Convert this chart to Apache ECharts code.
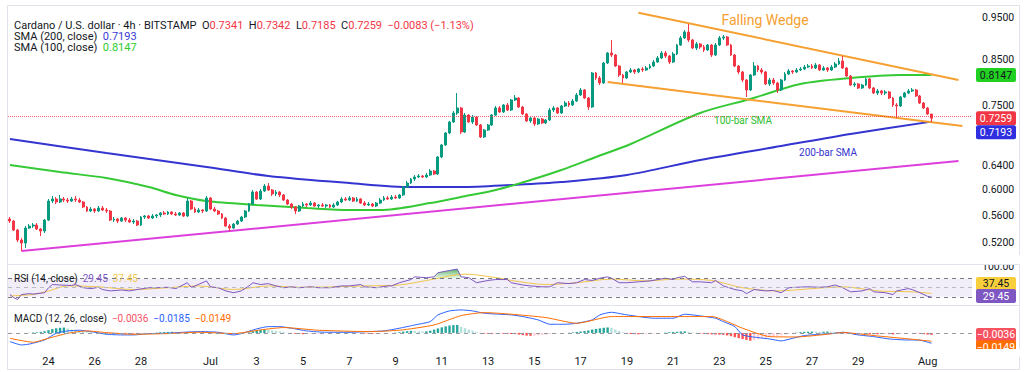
<!DOCTYPE html>
<html><head><meta charset="utf-8">
<script src="https://cdn.jsdelivr.net/npm/echarts@6/dist/echarts.min.js"></script>
<style>html,body{margin:0;padding:0;background:#fff}#c{width:1024px;height:372px}</style>
</head><body><div id="c"></div>
<script>
// ---------- data ----------
const START_UTC = Date.UTC(2025, 5, 22, 8);   // first 4h bar
const BAR_HOURS = 4;
const N_CATS = 250;                              // bars + right-side empty space
const TICK_DATES  = ['06-24','06-26','06-28','07-01','07-03','07-05','07-07','07-09','07-11','07-13','07-15','07-17','07-19','07-21','07-23','07-25','07-27','07-29','08-01'];
const TICK_LABELS = ['24','26','28','Jul','3','5','7','9','11','13','15','17','19','21','23','25','27','29','Aug'];
const PRICE_TICKS = [0.52, 0.56, 0.60, 0.64, 0.75, 0.85, 0.95];
const PRICE_MIN = 0.4929, PRICE_MAX = 0.9825;

// [open, close, low, high]
const candles = [
// 0-9
[0.5544,0.5514,0.5485,0.5574],[0.5514,0.5383,0.5369,0.5529],[0.5383,0.5241,0.5213,0.5398],[0.5241,0.5199,0.5089,0.5269],[0.5199,0.5412,0.5130,0.5441],
[0.5412,0.5441,0.5398,0.5470],[0.5441,0.5456,0.5412,0.5485],[0.5456,0.5398,0.5383,0.5485],[0.5398,0.5369,0.5297,0.5412],[0.5369,0.5529,0.5340,0.5544],
// 10-19
[0.5529,0.5817,0.5514,0.5849],[0.5817,0.5849,0.5786,0.5896],[0.5849,0.5802,0.5771,0.5880],[0.5802,0.5849,0.5786,0.5912],[0.5849,0.5833,0.5802,0.5880],
[0.5833,0.5817,0.5786,0.5865],[0.5817,0.5849,0.5802,0.5880],[0.5849,0.5833,0.5802,0.5896],[0.5833,0.5802,0.5786,0.5865],[0.5802,0.5725,0.5710,0.5817],
// 20-29
[0.5725,0.5664,0.5649,0.5740],[0.5664,0.5694,0.5649,0.5725],[0.5694,0.5664,0.5634,0.5710],[0.5664,0.5710,0.5649,0.5740],[0.5710,0.5679,0.5664,0.5740],
[0.5679,0.5664,0.5634,0.5710],[0.5664,0.5529,0.5514,0.5679],[0.5529,0.5544,0.5500,0.5574],[0.5544,0.5514,0.5485,0.5559],[0.5514,0.5559,0.5500,0.5574],
// 30-39
[0.5559,0.5529,0.5500,0.5574],[0.5529,0.5500,0.5485,0.5559],[0.5500,0.5514,0.5470,0.5544],[0.5514,0.5456,0.5441,0.5529],[0.5456,0.5574,0.5441,0.5589],
[0.5574,0.5589,0.5544,0.5604],[0.5589,0.5559,0.5544,0.5604],[0.5559,0.5589,0.5544,0.5619],[0.5589,0.5604,0.5559,0.5619],[0.5604,0.5634,0.5574,0.5649],
// 40-49
[0.5634,0.5619,0.5604,0.5664],[0.5619,0.5649,0.5604,0.5664],[0.5649,0.5619,0.5604,0.5664],[0.5619,0.5604,0.5589,0.5649],[0.5604,0.5634,0.5589,0.5649],
[0.5634,0.5589,0.5574,0.5649],[0.5589,0.5817,0.5574,0.5865],[0.5817,0.5694,0.5679,0.5833],[0.5694,0.5649,0.5634,0.5725],[0.5649,0.5679,0.5634,0.5710],
// 50-59
[0.5679,0.5664,0.5634,0.5694],[0.5664,0.5865,0.5649,0.5896],[0.5865,0.5694,0.5679,0.5880],[0.5694,0.5664,0.5649,0.5725],[0.5664,0.5619,0.5604,0.5679],
[0.5619,0.5559,0.5544,0.5634],[0.5559,0.5441,0.5427,0.5574],[0.5441,0.5412,0.5369,0.5470],[0.5412,0.5470,0.5398,0.5485],[0.5470,0.5514,0.5456,0.5529],
// 60-69
[0.5514,0.5574,0.5500,0.5589],[0.5574,0.5664,0.5559,0.5679],[0.5664,0.5771,0.5649,0.5786],[0.5771,0.5959,0.5756,0.5991],[0.5959,0.5849,0.5833,0.5975],
[0.5849,0.5975,0.5833,0.6007],[0.5975,0.6055,0.5959,0.6088],[0.6055,0.5991,0.5975,0.6104],[0.5991,0.5928,0.5896,0.6007],[0.5928,0.5959,0.5896,0.5991],
// 70-79
[0.5959,0.5912,0.5880,0.5975],[0.5912,0.5833,0.5817,0.5928],[0.5833,0.5771,0.5756,0.5849],[0.5771,0.5725,0.5694,0.5786],[0.5725,0.5664,0.5619,0.5740],
[0.5664,0.5740,0.5649,0.5756],[0.5740,0.5771,0.5725,0.5802],[0.5771,0.5756,0.5725,0.5786],[0.5756,0.5786,0.5740,0.5817],[0.5786,0.5740,0.5725,0.5802],
// 80-89
[0.5740,0.5756,0.5710,0.5771],[0.5756,0.5740,0.5725,0.5786],[0.5740,0.5756,0.5710,0.5771],[0.5756,0.5725,0.5710,0.5771],[0.5725,0.5756,0.5710,0.5786],
[0.5756,0.5802,0.5740,0.5817],[0.5802,0.5849,0.5786,0.5880],[0.5849,0.5833,0.5817,0.5880],[0.5833,0.5865,0.5817,0.5896],[0.5865,0.5817,0.5802,0.5880],
// 90-99
[0.5817,0.5849,0.5802,0.5880],[0.5849,0.5786,0.5771,0.5865],[0.5786,0.5756,0.5740,0.5817],[0.5756,0.5771,0.5740,0.5802],[0.5771,0.5740,0.5725,0.5786],
[0.5740,0.5786,0.5725,0.5802],[0.5786,0.5833,0.5771,0.5865],[0.5833,0.5865,0.5817,0.5896],[0.5865,0.5849,0.5833,0.5896],[0.5849,0.5880,0.5833,0.5912],
// 100-109
[0.5880,0.5865,0.5849,0.5912],[0.5865,0.5912,0.5849,0.5928],[0.5912,0.6039,0.5896,0.6055],[0.6039,0.6104,0.6023,0.6137],[0.6104,0.6170,0.6088,0.6186],
[0.6170,0.6203,0.6137,0.6236],[0.6203,0.6220,0.6186,0.6253],[0.6220,0.6203,0.6186,0.6236],[0.6203,0.6236,0.6186,0.6270],[0.6236,0.6303,0.6220,0.6338],
// 110-119
[0.6303,0.6253,0.6236,0.6320],[0.6253,0.6544,0.6236,0.6561],[0.6544,0.6758,0.6526,0.6776],[0.6758,0.6978,0.6739,0.6997],[0.6978,0.7186,0.6959,0.7206],
[0.7186,0.7361,0.7167,0.7400],[0.7361,0.7460,0.7321,0.7765],[0.7460,0.6997,0.6959,0.7480],[0.6997,0.7321,0.6978,0.7361],[0.7321,0.7186,0.7167,0.7341],
// 120-129
[0.7186,0.7282,0.7148,0.7321],[0.7282,0.7129,0.7110,0.7302],[0.7129,0.6904,0.6885,0.7148],[0.6904,0.7034,0.6885,0.7053],[0.7034,0.7129,0.7015,0.7148],
[0.7129,0.7321,0.7110,0.7341],[0.7321,0.7460,0.7302,0.7500],[0.7460,0.7380,0.7361,0.7500],[0.7380,0.7520,0.7361,0.7540],[0.7520,0.7420,0.7400,0.7560],
// 130-139
[0.7420,0.7621,0.7400,0.7642],[0.7621,0.7662,0.7601,0.7724],[0.7662,0.7480,0.7460,0.7683],[0.7480,0.7341,0.7321,0.7500],[0.7341,0.7206,0.7186,0.7361],
[0.7206,0.7263,0.7167,0.7282],[0.7263,0.7148,0.7110,0.7282],[0.7148,0.7244,0.7129,0.7263],[0.7244,0.7167,0.7148,0.7263],[0.7167,0.7225,0.7148,0.7244],
// 140-149
[0.7225,0.7420,0.7206,0.7460],[0.7420,0.7460,0.7380,0.7500],[0.7460,0.7361,0.7341,0.7480],[0.7361,0.7500,0.7341,0.7520],[0.7500,0.7560,0.7480,0.7601],
[0.7560,0.7520,0.7480,0.7601],[0.7520,0.7601,0.7500,0.7642],[0.7601,0.7724,0.7581,0.7765],[0.7724,0.7828,0.7704,0.7870],[0.7828,0.7662,0.7642,0.7849],
// 150-159
[0.7662,0.7480,0.7420,0.7683],[0.7480,0.8192,0.7460,0.8214],[0.8192,0.8083,0.8040,0.8214],[0.8083,0.7976,0.7933,0.8126],[0.7976,0.8413,0.7955,0.8436],
[0.8413,0.8642,0.8391,0.8665],[0.8642,0.8595,0.8550,0.8948],[0.8595,0.8346,0.8324,0.8618],[0.8346,0.8148,0.8105,0.8369],[0.8148,0.8083,0.7976,0.8170],
// 160-169
[0.8083,0.8214,0.8062,0.8236],[0.8214,0.8258,0.8192,0.8302],[0.8258,0.8214,0.8170,0.8280],[0.8214,0.8280,0.8192,0.8302],[0.8280,0.8258,0.8214,0.8324],
[0.8258,0.8302,0.8236,0.8346],[0.8302,0.8346,0.8280,0.8391],[0.8346,0.8436,0.8324,0.8481],[0.8436,0.8527,0.8413,0.8572],[0.8527,0.8642,0.8504,0.8688],
// 170-179
[0.8642,0.8572,0.8527,0.8688],[0.8572,0.8436,0.8391,0.8595],[0.8436,0.8618,0.8413,0.8665],[0.8618,0.8829,0.8595,0.8853],[0.8829,0.8996,0.8806,0.9044],
[0.8996,0.9141,0.8972,0.9190],[0.9141,0.8948,0.8900,0.9339],[0.8948,0.8759,0.8735,0.8972],[0.8759,0.8853,0.8711,0.8900],[0.8853,0.8782,0.8735,0.8876],
// 180-189
[0.8782,0.8711,0.8665,0.8829],[0.8711,0.8829,0.8688,0.8853],[0.8829,0.8595,0.8550,0.8853],[0.8595,0.8829,0.8572,0.8876],[0.8829,0.8996,0.8806,0.9044],
[0.8996,0.9020,0.8948,0.9068],[0.9020,0.8829,0.8806,0.9044],[0.8829,0.8595,0.8572,0.8853],[0.8595,0.8346,0.8324,0.8618],[0.8346,0.8214,0.8170,0.8369],
// 190-199
[0.8214,0.8040,0.7997,0.8236],[0.8040,0.7828,0.7683,0.8062],[0.7828,0.8148,0.7807,0.8170],[0.8148,0.8346,0.8126,0.8436],[0.8346,0.8258,0.8214,0.8369],
[0.8258,0.8214,0.8170,0.8302],[0.8214,0.7955,0.7933,0.8236],[0.7955,0.8040,0.7912,0.8083],[0.8040,0.7976,0.7933,0.8083],[0.7976,0.7828,0.7765,0.7997],
// 200-209
[0.7828,0.8040,0.7807,0.8062],[0.8040,0.8170,0.8019,0.8214],[0.8170,0.8236,0.8148,0.8280],[0.8236,0.8214,0.8170,0.8258],[0.8214,0.8258,0.8192,0.8302],
[0.8258,0.8280,0.8236,0.8324],[0.8280,0.8324,0.8258,0.8369],[0.8324,0.8346,0.8302,0.8391],[0.8346,0.8302,0.8280,0.8391],[0.8302,0.8369,0.8280,0.8413],
// 210-219
[0.8369,0.8258,0.8236,0.8391],[0.8258,0.8302,0.8236,0.8346],[0.8302,0.8258,0.8214,0.8324],[0.8258,0.8324,0.8236,0.8369],[0.8324,0.8391,0.8302,0.8436],
[0.8391,0.8458,0.8369,0.8527],[0.8458,0.8302,0.8280,0.8572],[0.8302,0.8126,0.8105,0.8324],[0.8126,0.7933,0.7912,0.8148],[0.7933,0.7955,0.7891,0.7997],
// 220-229
[0.7955,0.7870,0.7849,0.7976],[0.7870,0.7933,0.7849,0.7955],[0.7933,0.8062,0.7912,0.8083],[0.8062,0.7870,0.7849,0.8083],[0.7870,0.7765,0.7745,0.7891],
[0.7765,0.7807,0.7724,0.7849],[0.7807,0.7765,0.7724,0.7828],[0.7765,0.7786,0.7724,0.7828],[0.7786,0.7662,0.7642,0.7807],[0.7662,0.7520,0.7480,0.7683],
// 230-239
[0.7520,0.7500,0.7263,0.7560],[0.7500,0.7683,0.7480,0.7704],[0.7683,0.7765,0.7662,0.7786],[0.7765,0.7807,0.7745,0.7849],[0.7807,0.7828,0.7786,0.7870],
[0.7828,0.7704,0.7683,0.7849],[0.7704,0.7560,0.7540,0.7724],[0.7560,0.7460,0.7440,0.7581],[0.7460,0.7341,0.7321,0.7480],[0.7341,0.7259,0.7185,0.7342]
];

// [bar index, value]
const sma200 = [[0,0.6867],[25,0.6614],[51,0.6372],[67,0.6220],[88,0.6104],[104,0.6039],[117,0.6039],[130,0.6072],[143,0.6120],[160,0.6236],[179,0.6492],[200,0.6739],[218,0.6959],[239,0.7193]];
const sma100 = [[0,0.6406],[13,0.6286],[25,0.6186],[36,0.6039],[43,0.5912],[51,0.5817],[64,0.5756],[77,0.5710],[88,0.5679],[96,0.5679],[109,0.5786],[117,0.5880],[126,0.5991],[135,0.6153],[143,0.6320],[152,0.6544],[161,0.6776],[179,0.7361],[192,0.7642],[205,0.7955],[218,0.8083],[231,0.8148],[239,0.8147]];
const supportLine = [[3,0.5089],[246,0.6475]];
const wedgeUpper  = [[163,0.9625],[246,0.8040]];
const wedgeLower  = [[155,0.7997],[247,0.7110]];

const rsi = [[0,35],[1,28],[2,24],[3,35],[5,37],[6,36],[9,39],[10,50],[11,57],[13,56],[16,55],[17,57],[19,50],[21,48],[23,51],[24,46],[26,43],[29,45],[31,43],[33,46],[36,50],[38,50],[41,51],[43,48],[46,61],[47,51],[48,54],[51,65],[52,52],[54,50],[56,43],[58,39],[60,43],[62,54],[63,61],[65,57],[67,59],[69,54],[71,50],[73,52],[75,50],[78,52],[80,50],[83,50],[86,54],[88,54],[91,57],[92,52],[95,50],[98,54],[99,54],[101,61],[104,68],[105,74],[108,72],[110,74],[111,83],[114,88],[116,91],[117,74],[119,72],[121,61],[124,66],[126,68],[129,68],[130,61],[133,56],[135,54],[138,52],[140,52],[142,61],[145,59],[147,61],[149,68],[151,66],[153,71],[155,74],[156,71],[158,61],[160,61],[163,63],[166,65],[168,68],[170,71],[172,68],[173,72],[175,75],[177,63],[179,63],[182,61],[183,66],[185,54],[188,46],[190,43],[191,37],[193,46],[196,43],[198,44],[200,39],[202,50],[204,51],[207,52],[210,51],[212,52],[214,56],[216,50],[218,41],[221,43],[223,48],[224,41],[227,39],[229,35],[230,43],[233,48],[234,46],[236,39],[238,31],[239,29.45]];
const rsiMA = [[0,32],[6,35],[10,43],[15,54],[23,52],[32,46],[41,50],[49,54],[58,46],[67,54],[75,51],[84,52],[92,54],[101,56],[110,69],[118,80],[127,71],[130,66],[139,57],[147,61],[156,69],[165,65],[173,69],[182,66],[190,50],[199,43],[208,48],[216,52],[225,43],[234,41],[239,37.45]];
const rsiOverbought = [[110,74],[111,83],[114,88],[116,91],[117,74]];

const macd = [[0,-0.0155],[3,-0.0215],[5,-0.0200],[9,-0.0125],[12,-0.0006],[15,0.0036],[18,0.0048],[22,0.0012],[25,-0.0024],[29,-0.0036],[32,-0.0036],[36,-0.0012],[41,-0.0006],[45,0.0012],[49,0.0024],[54,0.0012],[58,-0.0036],[60,-0.0012],[64,0.0072],[67,0.0113],[70,0.0113],[73,0.0084],[77,0.0036],[82,0.0012],[88,0.0012],[93,0.0024],[97,0.0036],[101,0.0084],[105,0.0143],[109,0.0203],[111,0.0323],[114,0.0394],[117,0.0412],[120,0.0394],[123,0.0352],[127,0.0335],[130,0.0323],[133,0.0293],[137,0.0233],[140,0.0155],[144,0.0155],[147,0.0173],[151,0.0233],[153,0.0323],[156,0.0370],[159,0.0335],[163,0.0293],[167,0.0263],[172,0.0263],[175,0.0335],[179,0.0305],[183,0.0263],[185,0.0203],[188,0.0113],[190,-0.0036],[194,-0.0084],[197,-0.0108],[200,-0.0143],[203,-0.0096],[206,-0.0048],[210,-0.0024],[214,-0.0006],[216,0.0012],[220,-0.0036],[224,-0.0066],[228,-0.0108],[232,-0.0125],[236,-0.0131],[239,-0.0185]];
const signal = [[0,-0.0096],[6,-0.0167],[10,-0.0096],[15,-0.0006],[20,0.0036],[25,0.0006],[32,-0.0024],[41,-0.0012],[49,0.0012],[58,-0.0012],[65,0.0054],[71,0.0096],[80,0.0048],[93,0.0024],[101,0.0048],[110,0.0143],[117,0.0310],[123,0.0364],[130,0.0335],[139,0.0275],[147,0.0173],[156,0.0293],[165,0.0293],[173,0.0293],[182,0.0293],[190,0.0084],[197,-0.0066],[204,-0.0072],[212,-0.0024],[216,0.0006],[225,-0.0054],[234,-0.0113],[239,-0.0149]];
const hist = [
-0.0012,-0.0010,-0.0006,-0.0004,-0.0002,0.0003,0.0006,0.0012,0.0020,0.0030,
0.0050,0.0068,0.0082,0.0092,0.0096,0.0080,0.0062,0.0045,0.0030,0.0020,
0.0012,0.0008,0.0004,0.0002,-0.0002,-0.0006,-0.0010,-0.0014,-0.0014,-0.0012,
-0.0012,-0.0010,-0.0012,-0.0014,-0.0008,-0.0006,-0.0004,-0.0002,0.0004,0.0012,
0.0016,0.0018,0.0020,0.0018,0.0014,0.0012,0.0016,0.0012,0.0008,0.0006,
0.0004,0.0008,0.0004,0.0002,-0.0004,-0.0010,-0.0016,-0.0020,-0.0024,-0.0022,
-0.0016,-0.0008,0.0010,0.0030,0.0045,0.0056,0.0062,0.0055,0.0045,0.0036,
0.0026,0.0016,0.0006,-0.0006,-0.0014,-0.0020,-0.0022,-0.0020,-0.0018,-0.0016,
-0.0012,-0.0008,-0.0006,-0.0004,-0.0002,0.0002,0.0004,0.0006,0.0008,0.0006,
0.0002,-0.0004,-0.0010,-0.0014,-0.0016,-0.0014,-0.0012,-0.0008,-0.0004,0.0000,
0.0006,0.0014,0.0024,0.0032,0.0036,0.0034,0.0030,0.0026,0.0030,0.0040,
0.0060,0.0080,0.0100,0.0118,0.0132,0.0140,0.0143,0.0110,0.0085,0.0060,
0.0040,0.0020,-0.0006,-0.0012,-0.0016,-0.0018,-0.0016,-0.0014,-0.0016,-0.0018,
-0.0020,-0.0022,-0.0030,-0.0040,-0.0048,-0.0052,-0.0048,-0.0042,-0.0036,-0.0030,
-0.0022,-0.0014,-0.0008,-0.0004,0.0000,0.0004,0.0010,0.0018,0.0026,0.0034,
0.0044,0.0060,0.0072,0.0082,0.0092,0.0098,0.0090,0.0060,0.0034,0.0012,
-0.0010,-0.0018,-0.0022,-0.0024,-0.0022,-0.0020,-0.0018,-0.0014,-0.0008,-0.0002,
0.0006,0.0014,0.0018,0.0022,0.0026,0.0028,0.0020,0.0008,-0.0004,-0.0012,
-0.0018,-0.0022,-0.0026,-0.0030,-0.0030,-0.0034,-0.0044,-0.0058,-0.0076,-0.0094,
-0.0110,-0.0125,-0.0140,-0.0130,-0.0112,-0.0096,-0.0084,-0.0072,-0.0060,-0.0050,
-0.0040,-0.0028,-0.0016,-0.0004,0.0006,0.0014,0.0020,0.0022,0.0024,0.0022,
0.0020,0.0022,0.0024,0.0020,0.0016,0.0010,0.0004,-0.0006,-0.0016,-0.0022,
-0.0024,-0.0022,-0.0018,-0.0020,-0.0024,-0.0024,-0.0022,-0.0020,-0.0022,-0.0026,
-0.0024,-0.0018,-0.0010,-0.0004,-0.0002,-0.0006,-0.0014,-0.0022,-0.0030,-0.0036
];
const LAST = {open:0.7341, high:0.7342, low:0.7185, close:0.7259, chg:'−0.0083 (−1.13%)',
  sma200:0.7193, sma100:0.8147, rsi:29.45, rsiMA:37.45, hist:-0.0036, macd:-0.0185, signal:-0.0149};

// ---------- build ----------
const pad = n => String(n).padStart(2,'0');
const categories = [];
for (let i = 0; i < N_CATS; i++) {
  const d = new Date(START_UTC + i * BAR_HOURS * 3600000);
  categories.push(pad(d.getUTCMonth()+1) + '-' + pad(d.getUTCDate()) + ' ' + pad(d.getUTCHours()));
}
const tickMap = {};
TICK_DATES.forEach((k, j) => { tickMap[k + ' 00'] = TICK_LABELS[j]; });

const FONT = 'Roboto, "Noto Sans", sans-serif';
const C = {up:'#089981', down:'#f23645', s200:'#3434d0', s100:'#36c936', pink:'#dd3fdd', orange:'#f5a031',
  rsi:'#7e57c2', rsiMA:'#efc54a', macd:'#2962ff', sig:'#ff6d00', text:'#131722', grid:'#e0e3eb'};

const grids = [
  {left: 8, right: 52, top: 5, height: 258},
  {left: 8, right: 52, top: 265, height: 40},
  {left: 8, right: 52, top: 305, height: 43}
];
const xAxes = [0,1,2].map(g => ({
  type: 'category', gridIndex: g, data: categories, boundaryGap: true,
  axisLine: {show: false}, axisTick: {show: false}, splitLine: {show: false},
  axisLabel: g === 2 ? {
    show: true, color: C.text, fontSize: 11, fontFamily: FONT, margin: 8,
    interval: (idx, val) => tickMap[val] !== undefined,
    formatter: (val) => tickMap[val] || ''
  } : {show: false}
}));
const yAxes = [
  {type: 'log', logBase: 10, gridIndex: 0, min: PRICE_MIN, max: PRICE_MAX, position: 'right',
   axisLine: {show: false}, axisTick: {show: false}, splitLine: {show: false}, axisLabel: {show: false}},
  {type: 'value', gridIndex: 1, min: 12, max: 100, position: 'right',
   axisLine: {show: false}, axisTick: {show: false}, splitLine: {show: false}, axisLabel: {show: false}},
  {type: 'value', gridIndex: 2, min: -0.027, max: 0.05, position: 'right',
   axisLine: {show: false}, axisTick: {show: false}, splitLine: {show: false}, axisLabel: {show: false}}
];
const lineS = (name, data, color, width, xi, smooth, extra) => Object.assign({
  name, type: 'line', data, xAxisIndex: xi, yAxisIndex: xi, symbol: 'none', smooth: smooth || false,
  lineStyle: {color, width}, silent: true, z: 3
}, extra || {});

const histColors = hist.map((v, i) => {
  const p = i > 0 ? hist[i-1] : v;
  if (v >= 0) return v >= p ? '#26a69a' : '#b2dfdb';
  return v <= p ? '#ff5252' : '#ffcdd2';
});

const option = {
  animation: false,
  backgroundColor: '#ffffff',
  grid: grids, xAxis: xAxes, yAxis: yAxes,
  series: [
    lineS('SMA 200', sma200, C.s200, 2, 0, 0.3),
    lineS('SMA 100', sma100, C.s100, 2, 0, 0.3),
    lineS('Support', supportLine, C.pink, 2, 0, false),
    lineS('Wedge upper', wedgeUpper, C.orange, 2, 0, false),
    lineS('Wedge lower', wedgeLower, C.orange, 2, 0, false),
    {
      name: 'ADAUSD', type: 'candlestick', xAxisIndex: 0, yAxisIndex: 0, data: candles, barWidth: '62%', z: 4,
      itemStyle: {color: C.up, color0: C.down, borderColor: C.up, borderColor0: C.down, borderWidth: 1},
      markLine: {silent: true, symbol: 'none', label: {show: false},
        lineStyle: {color: C.down, type: 'dotted', width: 1, opacity: 0.8}, data: [{yAxis: LAST.close}]}
    },
    lineS('RSI OB', rsiOverbought, C.up, 0, 1, false, {
      lineStyle: {width: 0, opacity: 0},
      areaStyle: {origin: 70, opacity: 1, color: new echarts.graphic.LinearGradient(0,0,0,1,[{offset:0,color:'rgba(56,160,70,0.85)'},{offset:1,color:'rgba(120,200,120,0.15)'}])}
    }),
    lineS('RSI MA', rsiMA, C.rsiMA, 1, 1, 0.3),
    lineS('RSI', rsi, C.rsi, 1, 1, false, {
      markArea: {silent: true, itemStyle: {color: 'rgba(126,87,194,0.10)'}, data: [[{yAxis: 30}, {yAxis: 70}]]},
      markLine: {silent: true, symbol: 'none', label: {show: false},
        data: [{yAxis: 70, lineStyle:{color:'#787b86', type:[4,4], width:1}},
               {yAxis: 50, lineStyle:{color:'#b8bac2', type:[4,4], width:1}},
               {yAxis: 30, lineStyle:{color:'#787b86', type:[4,4], width:1}}]}
    }),
    {
      name: 'Histogram', type: 'bar', xAxisIndex: 2, yAxisIndex: 2, barWidth: '62%', silent: true,
      data: hist.map((v, i) => ({value: v, itemStyle: {color: histColors[i]}})),
      markLine: {silent: true, symbol: 'none', label: {show: false},
        lineStyle: {color: '#9598a1', type: [4,4], width: 1}, data: [{yAxis: 0}]}
    },
    lineS('MACD', macd, C.macd, 1, 2, 0.2),
    lineS('Signal', signal, C.sig, 1, 2, 0.2)
  ]
};

const chart = echarts.init(document.getElementById('c'), null, {renderer: 'svg'});
chart.setOption(option);

// ---------- overlays (positions from the library's own scales) ----------
const yPix = (axis, v) => chart.convertToPixel({yAxisIndex: axis}, v);
const g = [];
g.push({type:'rect', z: 50, silent: true, shape:{x:7.5, y:5.5, width:1012, height:364}, style:{fill:'none', stroke:C.grid, lineWidth:1}});
PRICE_TICKS.forEach(v => g.push({type:'text', z: 50, x: 982, y: yPix(0, v),
  style:{text: v.toFixed(4), fill: C.text, font: '10.5px ' + FONT, verticalAlign:'middle', align:'left'}}));
g.push({type:'text', z: 50, x: 982, y: yPix(1, 100) + 1,
  style:{text: '100.00', fill: C.text, font: '10.5px ' + FONT, verticalAlign:'middle', align:'left'}});
function tag(axis, value, text, bg, fg, dy) {
  const y = yPix(axis, value) + (dy || 0);
  g.push({type:'rect', z: 60, silent: true, shape:{x: 976, y: y - 7, width: 40, height: 14, r: 2}, style:{fill: bg}});
  g.push({type:'text', z: 61, silent: true, x: 996, y: y, style:{text, fill: fg, font: '10.5px ' + FONT, align:'center', verticalAlign:'middle'}});
}
tag(0, LAST.sma100, LAST.sma100.toFixed(4), '#22d022', '#131722', 0);
tag(0, LAST.close, LAST.close.toFixed(4), '#f23645', '#ffffff', 0);
tag(0, LAST.sma200, LAST.sma200.toFixed(4), '#2f2fe0', '#ffffff', 10.5);
tag(1, LAST.rsiMA, LAST.rsiMA.toFixed(2), '#f7cf3c', '#131722', -9.5);
tag(1, LAST.rsi, LAST.rsi.toFixed(2), '#7e57c2', '#ffffff', -1);
tag(2, LAST.hist, '−' + Math.abs(LAST.hist).toFixed(4), '#f7525f', '#ffffff', 0);
tag(2, LAST.signal, '−' + Math.abs(LAST.signal).toFixed(4), '#ff6d00', '#ffffff', 6);
g.push({type:'rect', z: 70, silent: true, shape:{x: 973, y: 255, width: 51, height: 9.5}, style:{fill:'#ffffff'}});
g.push({type:'rect', z: 70, silent: true, shape:{x: 973, y: 349, width: 51, height: 8}, style:{fill:'#ffffff'}});
[264.5, 305.5].forEach(y => g.push({type:'line', z: 71, silent: true, shape:{x1: 7, y1: y, x2: 1020, y2: y}, style:{stroke: C.grid, lineWidth: 1}}));

// legends
const LF = '11px ' + FONT, SF = '10px ' + FONT;
const LH = 10;
g.push({type:'text', z: 80, x: 14, y: 25, style:{verticalAlign:'middle', font: LF, lineHeight: LH,
  text: '{t|Cardano / U.S. dollar · 4h · BITSTAMP}  {t|O}{r|' + LAST.open.toFixed(4) + '}  {t|H}{r|' + LAST.high.toFixed(4) +
        '}  {t|L}{r|' + LAST.low.toFixed(4) + '}  {t|C}{r|' + LAST.close.toFixed(4) + '}  {r|' + LAST.chg + '}',
  rich: {t:{fill: C.text, font: LF, lineHeight: LH}, r:{fill: '#f23645', font: LF, lineHeight: LH}}}});
g.push({type:'text', z: 80, x: 14, y: 36, style:{verticalAlign:'middle', font: LF, lineHeight: LH,
  text: '{t|SMA (200, close)}  {b|' + LAST.sma200.toFixed(4) + '}', rich:{t:{fill:C.text, font:LF, lineHeight: LH}, b:{fill:'#3a3ad6', font:LF, lineHeight: LH}}}});
g.push({type:'text', z: 80, x: 14, y: 47, style:{verticalAlign:'middle', font: LF, lineHeight: LH,
  text: '{t|SMA (100, close)}  {g|' + LAST.sma100.toFixed(4) + '}', rich:{t:{fill:C.text, font:LF, lineHeight: LH}, g:{fill:'#2ecc2e', font:LF, lineHeight: LH}}}});
g.push({type:'text', z: 80, x: 14, y: 278, style:{verticalAlign:'middle', font: SF, lineHeight: LH,
  text: '{t|RSI (14, close)}  {p|' + LAST.rsi.toFixed(2) + '}  {y|' + LAST.rsiMA.toFixed(2) + '}',
  rich:{t:{fill:C.text, font:SF, lineHeight: LH}, p:{fill:C.rsi, font:SF, lineHeight: LH}, y:{fill:'#efc54a', font:SF, lineHeight: LH}}}});
g.push({type:'text', z: 80, x: 14, y: 318, style:{verticalAlign:'middle', font: SF, lineHeight: LH,
  text: '{t|MACD (12, 26, close)}  {r|−' + Math.abs(LAST.hist).toFixed(4) + '}  {b|−' + Math.abs(LAST.macd).toFixed(4) + '}  {o|−' + Math.abs(LAST.signal).toFixed(4) + '}',
  rich:{t:{fill:C.text, font:SF, lineHeight: LH}, r:{fill:'#f7525f', font:SF, lineHeight: LH}, b:{fill:C.macd, font:SF, lineHeight: LH}, o:{fill:C.sig, font:SF, lineHeight: LH}}}});

// chart annotations
g.push({type:'text', z: 80, x: 765, y: 20, style:{text:'Falling Wedge', fill: C.orange, font: '14px ' + FONT, align:'center', verticalAlign:'middle'}});
g.push({type:'text', z: 80, x: 743, y: 120, style:{text:'100-bar SMA', fill: '#2ebd2e', font: '10px ' + FONT, align:'center', verticalAlign:'middle'}});
g.push({type:'text', z: 80, x: 828, y: 152, style:{text:'200-bar SMA', fill: C.s200, font: '10px ' + FONT, align:'center', verticalAlign:'middle'}});

chart.setOption({graphic: g});
</script>
</body></html>
